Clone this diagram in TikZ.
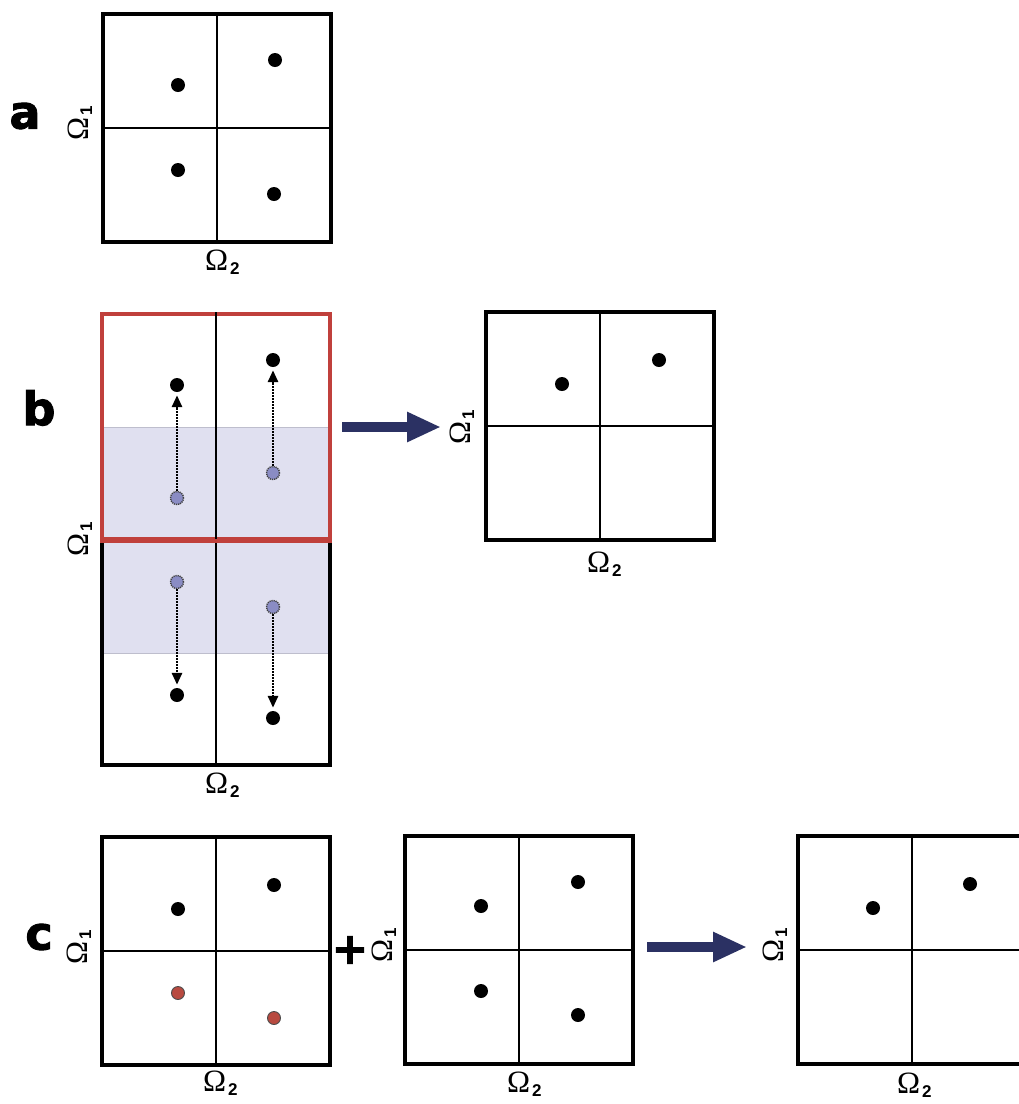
\documentclass[tikz,border=0pt]{standalone}
\usepackage{fontspec}
\setmainfont{Liberation Serif}
\newfontfamily\subfont{Liberation Sans}
\newfontfamily\panelfont[FakeBold=2]{DejaVu Sans Bold}
\usetikzlibrary{arrows.meta}
\definecolor{navy}{RGB}{43,49,99}
\definecolor{bandfill}{RGB}{224,224,240}
\definecolor{bandedge}{RGB}{190,190,205}
\definecolor{redbox}{RGB}{192,64,60}
\definecolor{bluedot}{RGB}{138,140,196}
\definecolor{reddot}{RGB}{184,74,64}
\newcommand\omlab[1]{\fontsize{31}{31}\selectfont Ω\kern2pt\raisebox{-4pt}{\subfont\bfseries\fontsize{17}{17}\selectfont #1}}
\begin{document}
\begin{tikzpicture}[x=1pt,y=-1pt,
  gridbox/.style={draw=black,line width=4pt,minimum width=228pt,minimum height=228pt,inner sep=0pt},
  midline/.style={line width=1.6pt},
  dot/.style={circle,fill=black,inner sep=0pt,minimum size=14pt},
  bdot/.style={circle,fill=bluedot,draw=black!75,dash pattern=on 1.2pt off 0.9pt,line width=1.4pt,inner sep=0pt,minimum size=13pt},
  rdot/.style={circle,fill=reddot,draw=black!70,line width=0.9pt,inner sep=0pt,minimum size=13pt},
  shift arrow/.style={dash pattern=on 2pt off 1pt,line width=2.8pt,-{Triangle[length=12pt,width=10pt]},shorten >=3pt},
  bigarrow/.style={draw=navy,line width=10pt,-{Triangle[length=34pt,width=28pt]}},
  omega/.style={inner sep=0pt,anchor=base west},
  omegav/.style={inner sep=0pt,anchor=base west,rotate=90},
  panel/.style={inner sep=0pt,font=\panelfont\fontsize{46}{46}\selectfont}
]
\useasboundingbox (0,0) rectangle (1019,1104);
\fill[white] (0,0) rectangle (1019,1104);

% ---------------- panel a ----------------
\node[panel] (la) at (25,116) {a};
\node[gridbox] (A) at (217,128) {};
\draw[midline] (A.north) -- (A.south);
\draw[midline] (A.west) -- (A.east);
\node[dot] (a1) at (178,85) {};
\node[dot] (a2) at (275,60) {};
\node[dot] (a3) at (178,170) {};
\node[dot] (a4) at (274,194) {};
\node[omegav] (oa1) at (88,141) {\omlab{1}};
\node[omega] (oa2) at (205,270) {\omlab{2}};

% ---------------- panel b ----------------
\node[panel] (lb) at (39,408) {b};
\fill[bandfill] (102,427) rectangle (330,653);
\draw[bandedge,line width=0.8pt] (102,427) -- (330,427);
\draw[bandedge,line width=0.8pt] (102,653) -- (330,653);
\node[draw=black,line width=4pt,minimum width=228pt,minimum height=226pt,inner sep=0pt] (BL) at (216,652) {};
\draw[midline] (216,539) -- (BL.south);
\node[draw=redbox,line width=3.5pt,minimum width=228pt,minimum height=225pt,inner sep=0pt] (BR) at (216,426.5) {};
\draw[midline] (BR.north) -- (BR.south);
\draw[redbox,line width=3.5pt] (BR.south west) -- (BR.south east);
\node[dot] (b1) at (177,385) {};
\node[dot] (b2) at (273,360) {};
\node[bdot] (b3) at (177,498) {};
\node[bdot] (b4) at (273,473) {};
\node[bdot] (b5) at (177,582) {};
\node[bdot] (b6) at (273,607) {};
\node[dot] (b7) at (177,695) {};
\node[dot] (b8) at (273,718) {};
\draw[shift arrow] (b3) -- (b1);
\draw[shift arrow] (b4) -- (b2);
\draw[shift arrow] (b5) -- (b7);
\draw[shift arrow] (b6) -- (b8);
\node[omegav] (ob1) at (88,557) {\omlab{1}};
\node[omega] (ob2) at (205,793) {\omlab{2}};

\coordinate (bs) at (342,427);
\coordinate (be) at (441,427);
\draw[bigarrow] (bs) -- (be);

\node[gridbox] (B2) at (600,426) {};
\draw[midline] (B2.north) -- (B2.south);
\draw[midline] (B2.west) -- (B2.east);
\node[dot] (b9) at (562,384) {};
\node[dot] (b10) at (659,360) {};
\node[omegav] (oc1) at (470,445) {\omlab{1}};
\node[omega] (oc2) at (587,572) {\omlab{2}};

% ---------------- panel c ----------------
\node[panel] (lc) at (39,937) {c};
\node[gridbox] (C1) at (216,951) {};
\draw[midline] (C1.north) -- (C1.south);
\draw[midline] (C1.west) -- (C1.east);
\node[dot] (c1) at (178,909) {};
\node[dot] (c2) at (274,885) {};
\node[rdot] (c3) at (178,993) {};
\node[rdot] (c4) at (274,1018) {};
\node[omegav] (od1) at (87,965) {\omlab{1}};
\node[omega] (od2) at (203,1091) {\omlab{2}};

\node[inner sep=0pt,font=\panelfont\fontsize{44}{44}\selectfont] (plus) at (350,950) {+};

\node[gridbox] (C2) at (519,950) {};
\draw[midline] (C2.north) -- (C2.south);
\draw[midline] (C2.west) -- (C2.east);
\node[dot] (c5) at (481,906) {};
\node[dot] (c6) at (578,882) {};
\node[dot] (c7) at (481,991) {};
\node[dot] (c8) at (578,1015) {};
\node[omegav] (oe1) at (392,963) {\omlab{1}};
\node[omega] (oe2) at (507,1092) {\omlab{2}};

\coordinate (cs) at (647,947);
\coordinate (ce) at (747,947);
\draw[bigarrow] (cs) -- (ce);

\node[gridbox] (C3) at (912,950) {};
\draw[midline] (C3.north) -- (C3.south);
\draw[midline] (C3.west) -- (C3.east);
\node[dot] (c9) at (873,908) {};
\node[dot] (c10) at (970,884) {};
\node[omegav] (of1) at (783,963) {\omlab{1}};
\node[omega] (of2) at (897,1093) {\omlab{2}};
\end{tikzpicture}
\end{document}
